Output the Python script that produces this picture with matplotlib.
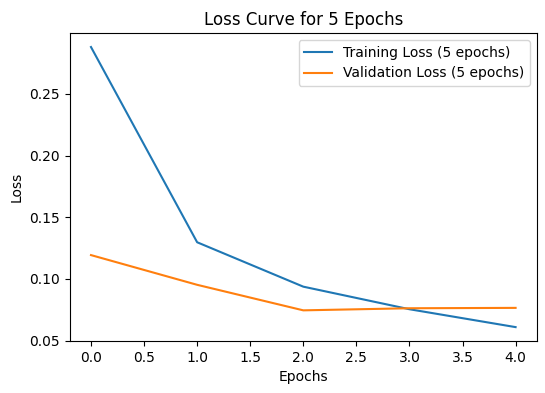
import matplotlib
matplotlib.use("Agg")
import matplotlib.pyplot as plt

# loss values per epoch
epochs = [0, 1, 2, 3, 4]
train_loss = [0.288, 0.1297, 0.0937, 0.0754, 0.0609]
val_loss = [0.1193, 0.0952, 0.0745, 0.0762, 0.0765]

fig = plt.figure(figsize=(5.45, 3.93), dpi=100)
ax = fig.add_axes([0.128, 0.132, 0.857, 0.784])
ax.plot(epochs, train_loss, label='Training Loss (5 epochs)')
ax.plot(epochs, val_loss, label='Validation Loss (5 epochs)')
ax.set_xlabel('Epochs')
ax.set_ylabel('Loss')
ax.set_title('Loss Curve for 5 Epochs')
ax.legend()
fig.savefig('out.png')
